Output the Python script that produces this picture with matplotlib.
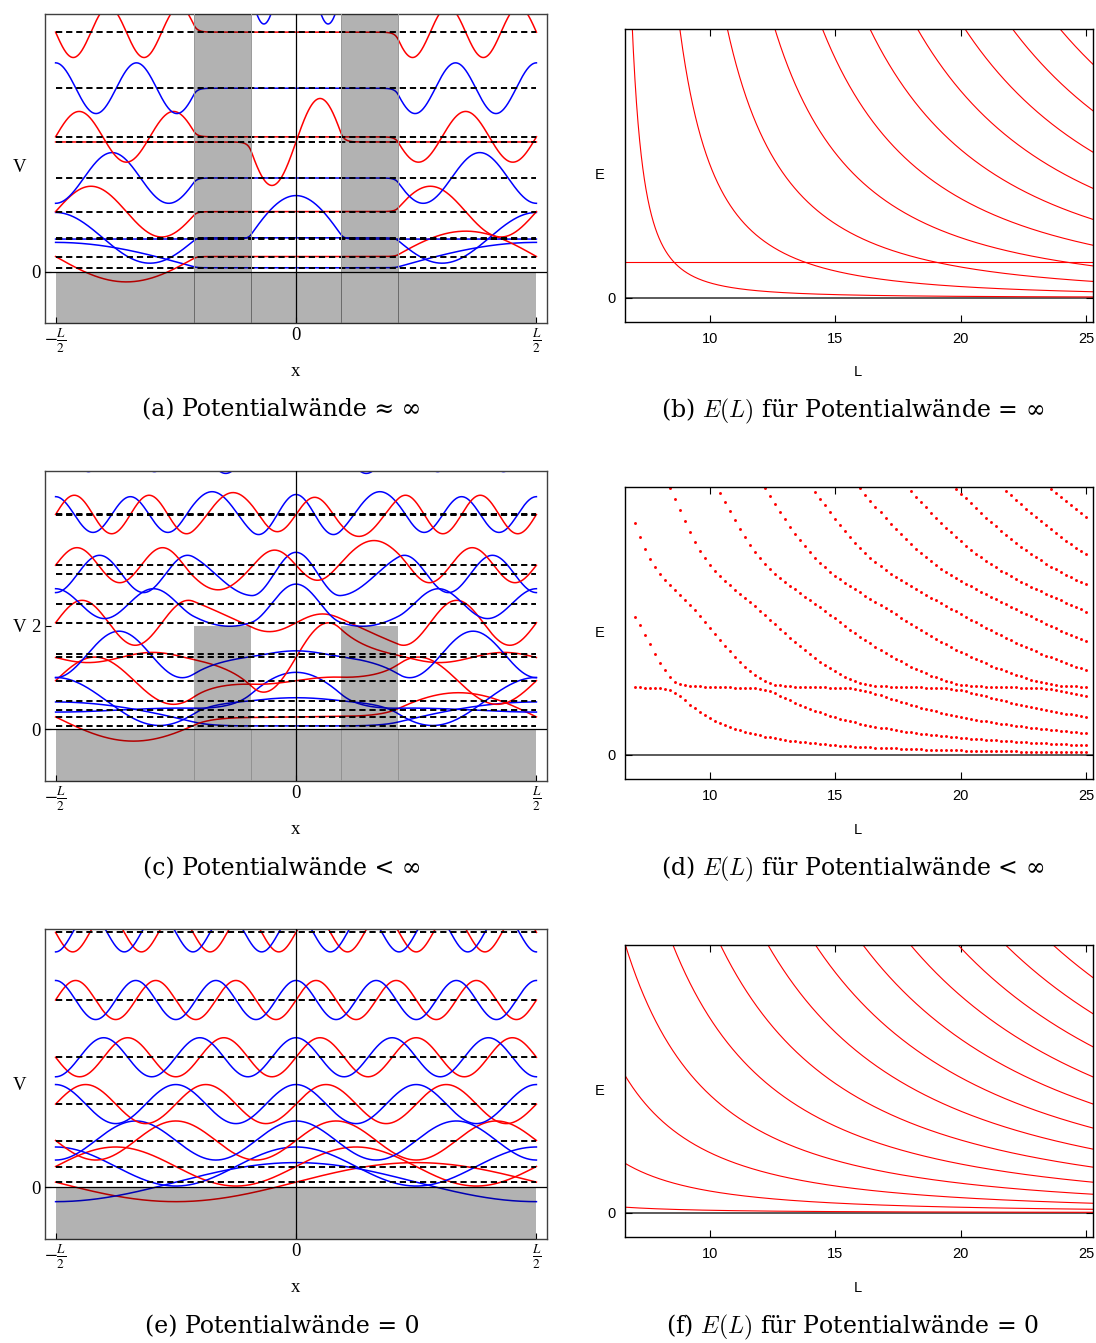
import numpy as np
import matplotlib.pyplot as plt

plt.rcParams['mathtext.fontset'] = 'stix'

W_PX, H_PX = 1096, 1343

# ring model, hbar = m = 1
L_PLOT = 14.0              # ring length of the wavefunction plots
X_IN, X_OUT = 1.3, 2.98    # inner / outer edge of each wall
V_HIGH = 50.0              # walls "almost infinite"
V_FINITE = 2.0             # finite walls
E_CUT = 6.2

# orientation of each eigenfunction, sorted by energy
signs_a = [1, -1, 1, 1, 1, -1, -1, 1, 1, -1, -1, 1, 1, 1]
signs_c = [1, -1, 1, 1, 1, -1, -1, 1, 1, -1, 1, 1, 1, 1, 1]

# free ring
n_free = [1, 2, 3, 4, 5, 6, 7]

# E(L) panels
k_inf = [1, 3, 5, 7, 9, 11, 13, 15, 17, 19]
k_free = [1, 3, 5, 7, 9, 11, 13, 15, 17, 19, 21, 23, 25]
L_dots = np.round(np.arange(7.0, 25.01, 0.2), 2)

RED, BLUE = '#ff0000', '#0000ff'
DASH = dict(color='k', lw=1.4, dashes=(3.2, 2.0), zorder=3)


def overlap(lo, hi, a, b):
    return np.clip(np.minimum(hi, b) - np.maximum(lo, a), 0, None)


def ring_states(L, v0, n=1000):
    dx = L / n
    x = -L / 2 + dx * np.arange(n)
    lo, hi = x - dx / 2, x + dx / 2
    frac = overlap(lo, hi, X_IN, X_OUT) + overlap(lo, hi, -X_OUT, -X_IN)
    v = v0 * frac / dx
    t = 0.5 / dx**2
    h = np.diag(2 * t + v) - t * np.eye(n, k=1) - t * np.eye(n, k=-1)
    h[0, -1] = h[-1, 0] = -t
    e, vec = np.linalg.eigh(h)
    return x, e, vec / np.sqrt(dx)


def odd_levels(L, v0, m=400):
    h = (L / 2) / m
    x = h * np.arange(1, m)
    v = v0 * overlap(x - h / 2, x + h / 2, X_IN, X_OUT) / h
    t = 0.5 / h**2
    H = np.diag(2 * t + v) - t * np.eye(m - 1, k=1) - t * np.eye(m - 1, k=-1)
    return np.linalg.eigvalsh(H)


def add_axes(fig, left, top, right, bottom):
    return fig.add_axes([left / W_PX, 1 - bottom / H_PX,
                         (right - left) / W_PX, (bottom - top) / H_PX])


def px_text(fig, x, y, s, **kw):
    fig.text(x / W_PX, 1 - y / H_PX, s, ha='center', va='center', **kw)


def draw_states(ax, L, v0, signs):
    x, e, vec = ring_states(L, v0)
    n = len(x)
    mirror = (-np.arange(n)) % n
    for i in range(len(e)):
        if e[i] > E_CUT:
            break
        psi = vec[:, i].copy()
        even = np.sum(psi * psi[mirror]) > 0
        amp = np.abs(psi)
        j = np.argmax(amp > 0.3 * amp.max())
        psi *= np.sign(psi[j]) * signs[i]
        xs = np.append(x, L / 2) / L
        ys = np.append(psi, psi[0]) + e[i]
        ax.plot(xs, ys, color=BLUE if even else RED, lw=1.1, zorder=2)
        ax.plot([-0.5, 0.5], [e[i], e[i]], **DASH)


def style_left(ax, yticks):
    ax.set_xlim(-0.522, 0.522)
    ax.set_ylim(-1, 5)
    ax.axhline(0, color='k', lw=0.9, zorder=5)
    ax.axvline(0, color='k', lw=0.9, zorder=5)
    ax.fill_between([-0.5, 0.5], -1.2, 0, color='k', alpha=0.3, lw=0, zorder=4)
    ax.set_xticks([-0.5, 0, 0.5])
    ax.set_xticklabels([r'$-\frac{L}{2}$', '0', r'$\frac{L}{2}$'])
    ax.set_yticks(yticks)
    ax.set_yticklabels([str(v) for v in yticks])
    ax.tick_params(direction='in', length=4, width=0.8, labelsize=13.5, pad=3)
    for lbl in ax.get_xticklabels() + ax.get_yticklabels():
        lbl.set_family('Liberation Serif')
    for sp in ax.spines.values():
        sp.set_color('0.25')
        sp.set_linewidth(1.0)


def add_walls(ax, L, height, seam, seam_top):
    for s in (1, -1):
        xw = s * np.array([X_IN, X_OUT]) / L
        ax.fill_between(xw, 0, height, color='k', alpha=0.3, lw=0, zorder=4)
        for xe in xw:
            ax.plot([xe, xe], [-1.2, seam_top], color=seam, lw=0.7, zorder=4)


def style_right(ax):
    ax.set_xlim(6.615, 25.27)
    ax.set_ylim(-0.5, 5.5)
    ax.axhline(0, color='0.3', lw=1.3, zorder=1)
    ax.set_xticks([10, 15, 20, 25])
    ax.set_yticks([0])
    ax.tick_params(direction='in', length=5, width=0.8, top=True, right=True,
                   labelsize=10.5, pad=7)
    for lbl in ax.get_xticklabels() + ax.get_yticklabels():
        lbl.set_family('Liberation Sans')
    for sp in ax.spines.values():
        sp.set_color('k')
        sp.set_linewidth(1.0)


fig = plt.figure(figsize=(W_PX / 100, H_PX / 100), dpi=100)

# (a) walls almost infinite
ax_a = add_axes(fig, 45, 14, 547, 323)
draw_states(ax_a, L_PLOT, V_HIGH, signs_a)
add_walls(ax_a, L_PLOT, 10, '0.6', 10)
style_left(ax_a, [0])

# (c) finite walls
ax_c = add_axes(fig, 45, 471, 547, 781)
draw_states(ax_c, L_PLOT, V_FINITE, signs_c)
add_walls(ax_c, L_PLOT, V_FINITE, '0.82', 0)
style_left(ax_c, [0, 2])

# (e) no walls: free ring, cos / sin pairs
ax_e = add_axes(fig, 45, 929, 547, 1239)
xf = np.linspace(-0.5, 0.5, 800)
amp_free = np.sqrt(2 / L_PLOT)
for n in n_free:
    en = 2 * np.pi**2 * n**2 / L_PLOT**2
    ax_e.plot(xf, en + amp_free * np.sin(2 * np.pi * n * xf), color=RED, lw=1.1, zorder=2)
    ax_e.plot(xf, en + amp_free * np.cos(2 * np.pi * n * xf), color=BLUE, lw=1.1, zorder=2)
    ax_e.plot([-0.5, 0.5], [en, en], **DASH)
style_left(ax_e, [0])

Ls = np.linspace(6.6, 25.3, 1500)

# (b) E(L), infinite walls
ax_b = add_axes(fig, 625, 29, 1093, 322)
for k in k_inf:
    w = Ls - 2 * X_OUT
    E = np.where(w > 0.05, np.pi**2 * k**2 / (2 * np.where(w > 0.05, w, 1)**2), np.nan)
    E[E > 7] = np.nan
    ax_b.plot(Ls, E, color=RED, lw=0.8, zorder=2)
ax_b.axhline(np.pi**2 / (2 * (2 * X_IN)**2), color=RED, lw=0.8, zorder=2)
style_right(ax_b)

# (d) E(L), finite walls, computed on a grid of L
ax_d = add_axes(fig, 625, 487, 1093, 779)
pts_L, pts_E = [], []
for L in L_dots:
    ev = odd_levels(L, V_FINITE)
    ev = ev[ev < 5.6]
    pts_L.extend([L] * len(ev))
    pts_E.extend(ev)
ax_d.plot(pts_L, pts_E, ls='none', marker='o', ms=2.1, mew=0, color=RED, zorder=2)
style_right(ax_d)

# (f) E(L), no walls
ax_f = add_axes(fig, 625, 945, 1093, 1237)
for k in k_free:
    E = np.pi**2 * k**2 / (2 * Ls**2)
    E[E > 7] = np.nan
    ax_f.plot(Ls, E, color=RED, lw=0.8, zorder=2)
style_right(ax_f)

# axis labels
serif = dict(family='Liberation Serif', fontsize=13.5)
sans = dict(family='Liberation Sans', fontsize=10.5)
for y_v, y_x in [(168, 372), (627, 830), (1085, 1287)]:
    px_text(fig, 20, y_v, 'V', **serif)
    px_text(fig, 296, y_x, 'x', **serif)
for y_e, y_l in [(175, 372), (633, 830), (1091, 1288)]:
    px_text(fig, 600, y_e, 'E', **sans)
    px_text(fig, 858, y_l, 'L', **sans)

# sub-captions
cap = dict(family='DejaVu Serif', fontsize=17, math_fontfamily='cm')
px_text(fig, 282, 410, '(a) Potentialwände ≈ ∞', **cap)
px_text(fig, 853, 411, '(b) $E(L)$ für Potentialwände = ∞', **cap)
px_text(fig, 282, 869, '(c) Potentialwände < ∞', **cap)
px_text(fig, 853, 869, '(d) $E(L)$ für Potentialwände < ∞', **cap)
px_text(fig, 282, 1327, '(e) Potentialwände = 0', **cap)
px_text(fig, 853, 1327, '(f) $E(L)$ für Potentialwände = 0', **cap)

fig.savefig('out.png', dpi=100)
